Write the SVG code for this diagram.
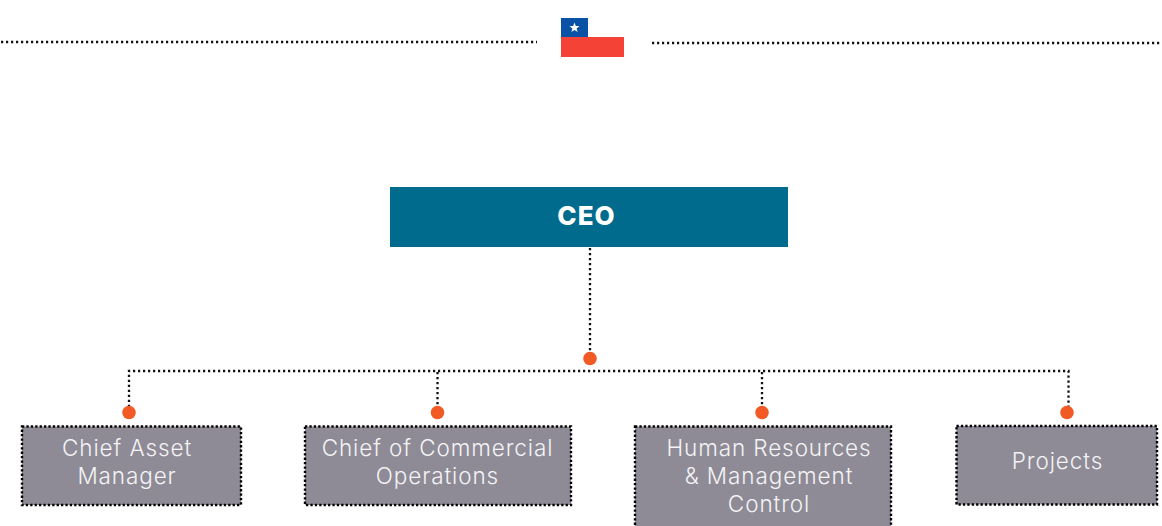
<svg xmlns="http://www.w3.org/2000/svg" width="1162" height="526" viewBox="0 0 1162 526">
<style>
.dot{fill:none;stroke:#111;stroke-width:2.3;stroke-dasharray:2.2 2.8}
.box{fill:#8e8b96;stroke:#000;stroke-width:2.4;stroke-dasharray:2.3 2.1}
.pin{fill:#f15a24}
text{font-family:"Inter","Liberation Sans",sans-serif;text-anchor:middle}
.lbl{fill:#f4f3f5;font-size:22.5px;font-weight:300;letter-spacing:.9px}
</style>
<rect width="1162" height="526" fill="#fff"/>
<g id="divider">
<path class="dot" d="M1 42H537M652 43H1164"/>
</g>
<g id="flag">
<rect x="561" y="18" width="27" height="19" fill="#0a52a5"/>
<rect x="561" y="37" width="63" height="20" fill="#f44336"/>
<polygon fill="#fff" points="574.500,22.500 575.800,26 579.500,26.100 576.600,28.400 577.600,32 574.500,29.900 571.400,32 572.400,28.400 569.500,26.100 573.200,26"/>
</g>
<g id="connectors">
<path class="dot" d="M590 248V352"/>
<path class="dot" d="M129 407V371H1068.500V407"/>
<path class="dot" d="M437.500 372V407"/>
<path class="dot" d="M762 372V407"/>
</g>
<g id="pins">
<circle class="pin" cx="590" cy="358.500" r="6.800"/>
<circle class="pin" cx="129" cy="412.500" r="6.800"/>
<circle class="pin" cx="437.500" cy="412.500" r="6.800"/>
<circle class="pin" cx="762" cy="412.500" r="6.800"/>
<circle class="pin" cx="1067" cy="412.500" r="6.800"/>
</g>
<g id="ceo">
<rect x="390" y="187" width="398" height="60" fill="#006b8d"/>
<text x="586.500" y="225" fill="#fff" font-size="26" font-weight="800" letter-spacing="1">CEO</text>
</g>
<g id="chief-asset-manager">
<rect class="box" x="22" y="426.500" width="219" height="78.500"/>
<text class="lbl" x="127" y="456">Chief Asset</text>
<text class="lbl" x="127" y="484">Manager</text>
</g>
<g id="chief-commercial-operations">
<rect class="box" x="305" y="426.500" width="266" height="78.500"/>
<text class="lbl" x="437.500" y="456">Chief of Commercial</text>
<text class="lbl" x="437.500" y="484">Operations</text>
</g>
<g id="human-resources">
<rect class="box" x="635" y="426.500" width="256" height="110"/>
<text class="lbl" x="769" y="456">Human Resources</text>
<text class="lbl" x="769" y="484">&amp; Management</text>
<text class="lbl" x="769" y="512">Control</text>
</g>
<g id="projects">
<rect class="box" x="956.500" y="426" width="200.500" height="78.500"/>
<text class="lbl" x="1057.500" y="469">Projects</text>
</g>
</svg>
